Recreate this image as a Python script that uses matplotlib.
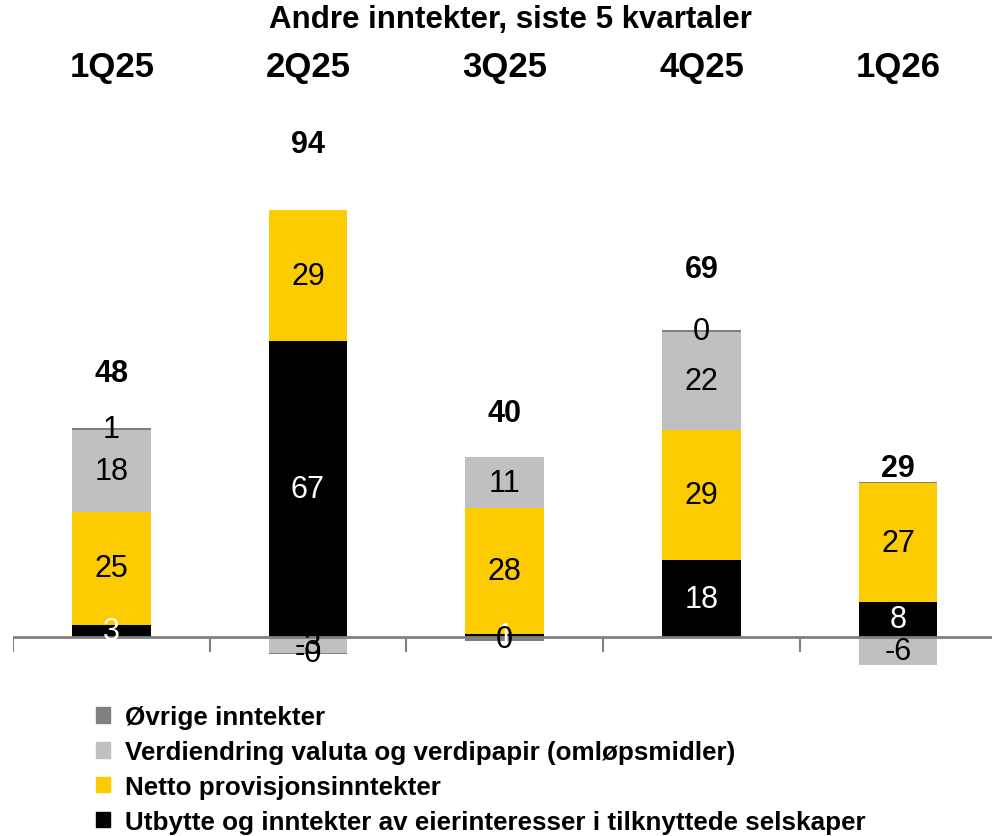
import numpy as np
import matplotlib
matplotlib.use("Agg")
import matplotlib.pyplot as plt
from matplotlib.patches import Patch

quarters = ["1Q25", "2Q25", "3Q25", "4Q25", "1Q26"]
series_names = [
    "Utbytte og inntekter av eierinteresser i tilknyttede selskaper",
    "Netto provisjonsinntekter",
    "Verdiendring valuta og verdipapir (omløpsmidler)",
    "Øvrige inntekter",
]
utbytte = [2.7, 66.5, 0.6, 17.2, 7.9]
provisjon = [25.4, 29.4, 28.4, 29.3, 26.6]
verdiendring = [18.4, -3.5, 11.4, 22.0, -6.3]
ovrige = [0.5, -0.4, -1.0, 0.4, 0.4]

utbytte_lbl = ["3", "67", "1", "18", "8"]
provisjon_lbl = ["25", "29", "28", "29", "27"]
verdiendring_lbl = ["18", "-3", "11", "22", "-6"]
ovrige_lbl = ["1", "-0", "0", "0", ""]

totals = [48, 94, 40, 69, 29]

colors = ["#000000", "#FCCC00", "#C0C0C0", "#808080"]
text_colors = ["white", "black", "black", "black"]

narrow = ["Liberation Sans Narrow", "Liberation Sans", "DejaVu Sans"]
plt.rcParams["font.family"] = ["Liberation Sans", "DejaVu Sans"]

fig = plt.figure(figsize=(9.92, 8.37), dpi=100)
ax = fig.add_axes([13 / 992, (837 - 680) / 837, 979 / 992, 580 / 837])

x = np.arange(len(quarters))
width = 0.4
data = [utbytte, provisjon, verdiendring, ovrige]
labels = [utbytte_lbl, provisjon_lbl, verdiendring_lbl, ovrige_lbl]

pos_base = np.zeros(len(x))
neg_base = np.zeros(len(x))
for vals, lbls, col, tcol in zip(data, labels, colors, text_colors):
    vals = np.array(vals)
    bottoms = np.where(vals >= 0, pos_base, neg_base)
    ax.bar(x, vals, width, bottom=bottoms, color=col, zorder=2)
    for xi, b, v, t in zip(x, bottoms, vals, lbls):
        if t:
            ax.text(xi, b + v / 2, t, ha="center", va="center", fontsize=22,
                    color=tcol, family=narrow, zorder=4)
    pos_base = pos_base + np.where(vals >= 0, vals, 0)
    neg_base = neg_base + np.where(vals < 0, vals, 0)

for xi, t in zip(x, totals):
    ax.text(xi, 1.12 * t + 5.5, str(t), ha="center", va="center",
            fontsize=22, fontweight="bold", family=narrow)

# axis line and category separators
ax.axhline(0, color="#808080", lw=2, zorder=3)
ax.vlines(np.arange(len(x) + 1) - 0.5, -3.4, 0, color="#808080", lw=1.5)

ax.set_xlim(-0.5, 4.478)
ax.set_ylim(-9.44, 120.9)
ax.axis("off")

for xi, q in zip(x, quarters):
    fig.text((112 + 196.5 * xi) / 992, 1 - 68 / 837, q, ha="center",
             va="center", fontsize=25, fontweight="bold")
fig.text(0.515, 1 - 20 / 837, "Andre inntekter, siste 5 kvartaler", ha="center",
         va="center", fontsize=22.5, fontweight="bold")

handles = [Patch(color=c) for c in colors[::-1]]
fig.legend(handles, series_names[::-1], loc="upper left",
           bbox_to_anchor=(96 / 992, 1 - 706 / 837), frameon=False,
           prop={"weight": "bold", "size": 18.7}, handlelength=0.55,
           handleheight=0.55, handletextpad=0.55, labelspacing=0.42,
           borderaxespad=0, borderpad=0)

fig.savefig("out.png", dpi=100)
